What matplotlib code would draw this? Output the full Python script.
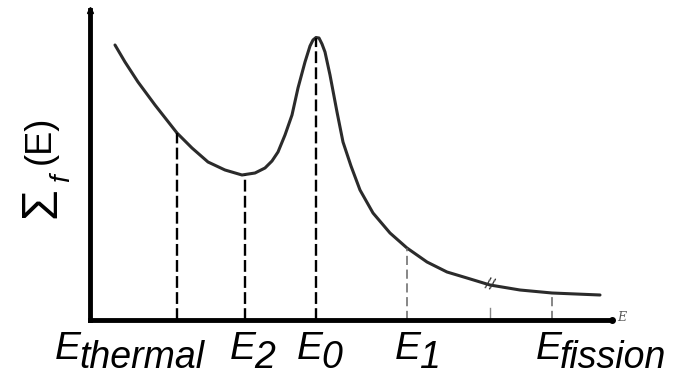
import matplotlib
matplotlib.use('Agg')
import matplotlib.pyplot as plt

plt.rcParams['font.family'] = ['Liberation Sans', 'DejaVu Sans']

# curve (arbitrary units)
energy = [2.5, 3.5, 4.8, 6.5, 8.7, 10.2, 11.8, 13.5, 15.2, 16.5, 17.5, 18.2, 18.8,
          19.5, 20.2, 20.8, 21.5, 22.0, 22.3, 22.6, 22.9, 23.2, 23.5, 24.0, 24.7,
          25.3, 26.1, 27.0, 28.3, 30.0, 31.7, 33.7, 35.7, 37.7, 40.0, 43.0, 46.2, 51.0]
sigma_f = [27.5, 25.8, 23.8, 21.5, 18.7, 17.2, 15.8, 15.0, 14.5, 14.7, 15.2, 15.9, 16.8,
           18.5, 20.5, 23.2, 25.8, 27.4, 28.0, 28.25, 28.2, 27.6, 26.8, 24.5, 20.8,
           17.8, 15.4, 13.0, 10.7, 8.7, 7.2, 5.8, 4.8, 4.2, 3.5, 3.0, 2.7, 2.5]

tick_names = ['thermal', '2', '0', '1', 'fission']
tick_energy = [8.7, 15.5, 22.6, 31.7, 46.2]
tick_sigma = [18.7, 14.5, 28.25, 7.2, 2.7]
break_energy = 40.0
break_sigma = 3.5

fig = plt.figure(figsize=(6.87, 3.77), dpi=100)
ax = fig.add_axes([90/687, 57/377, 522/687, 310/377])
ax.set_xlim(0, 52.2)
ax.set_ylim(0, 31)

ax.plot(energy, sigma_f, color='#2b2b2b', lw=2.2, solid_capstyle='round',
        solid_joinstyle='round')

# dashed drop lines
for i in range(len(tick_energy)):
    if i < 3:
        ax.plot([tick_energy[i], tick_energy[i]], [0, tick_sigma[i]], color='black',
                lw=1.7, ls=(0, (5, 1.8)))
    else:
        ax.plot([tick_energy[i], tick_energy[i]], [0, tick_sigma[i]], color='#666666',
                lw=1.1, ls=(0, (6, 3)))

# axis break mark
ax.annotate('//', xy=(break_energy, break_sigma), ha='center', va='center',
            fontsize=12, color='#333333', rotation=-15)
ax.plot([break_energy, break_energy], [0, 1.2], color='#888888', lw=1.0)

# axes
for s in ['top', 'right']:
    ax.spines[s].set_visible(False)
for s in ['left', 'bottom']:
    ax.spines[s].set_linewidth(3.5)
ax.set_xticks([])
ax.set_yticks([])
ax.plot(0, 31, marker='^', ms=5, color='black', clip_on=False)
ax.plot(52.2, 0, marker='o', ms=4, color='black', clip_on=False)
ax.annotate('E', xy=(52.2, 0), xytext=(4, 2), textcoords='offset points',
            family='DejaVu Serif', style='italic', fontsize=9, color='#555555',
            va='center', ha='left')

# energy labels
label_dx = [-88, -11, -14, -9, -12]
for i in range(len(tick_names)):
    t = ax.annotate('E', xy=(tick_energy[i], 0), xytext=(label_dx[i], -28),
                    textcoords='offset points', style='italic', fontsize=28,
                    ha='left', va='baseline')
    ax.annotate(tick_names[i], xy=(1, 0), xycoords=t, xytext=(-1, -1),
                textcoords='offset points', style='italic', fontsize=27,
                ha='left', va='baseline')

# y label
fig.text(42/687, 1 - 203/377, '\u03a3', rotation=90, fontsize=36, ha='center', va='center')
fig.text(62/687, 1 - 178/377, 'f', rotation=90, fontsize=20, style='italic',
         ha='center', va='center')
fig.text(40/687, 1 - 140/377, '(E)', rotation=90, fontsize=26, ha='center', va='center')

fig.savefig('out.png', dpi=100)
